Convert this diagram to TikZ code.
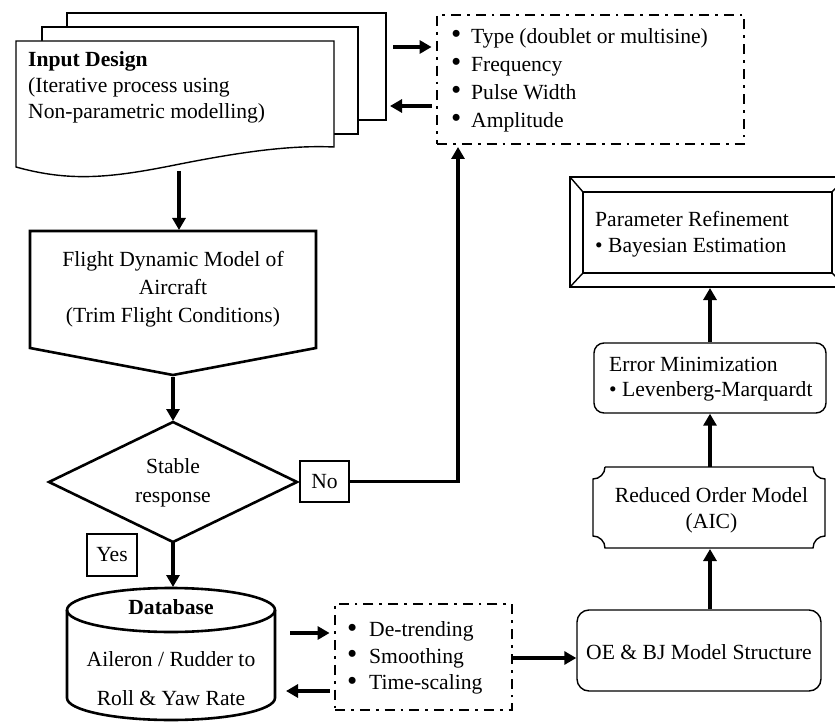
\documentclass[tikz,border=0pt]{standalone}
\usepackage{fontspec}
\setmainfont{Liberation Serif}
\usetikzlibrary{arrows.meta}
\newcommand{\bul}{\raisebox{-0.5pt}{\scalebox{1.35}{\textbullet}}}
\begin{document}
\begin{tikzpicture}[x=1pt,y=-1pt,
  every node/.style={font=\fontsize{21.6}{27}\selectfont, inner sep=0pt},
  arr/.style={line width=3.8pt, -{Triangle[length=12pt,width=13pt]}},
  thinline/.style={draw, line width=1.4pt},
  thickline/.style={draw, line width=2.6pt},
  dashdot/.style={draw, line width=2.8pt, dash pattern=on 10pt off 6pt on 2.8pt off 6pt},
  lbl/.style={draw, line width=1.3pt, fill=white}
]
\clip (0,0) rectangle (835,722);
\fill[white] (0,0) rectangle (835,722);

% --- Input design (stack of documents)
\draw[thinline, fill=white] (67,13) rectangle (386,120);
\draw[thinline, fill=white] (42,27) rectangle (358,134);
\draw[thinline, fill=white] (16,41) -- (334,41) -- (334,147)
   .. controls (290,145) and (240,152) .. (175,165)
   .. controls (110,178) and (70,182) .. (16,167) -- cycle;
\node[anchor=west, align=left, font=\fontsize{21.6}{26}\selectfont] (inputtxt) at (28,87)
  {\textbf{Input Design}\\(Iterative process using\\Non-parametric modelling)};
\coordinate (pgout) at (393,47);
\coordinate (pgin) at (390,106);
\coordinate (pgbot) at (179,171);

% --- Input types box
\node[dashdot, minimum width=307pt, minimum height=129pt] (types) at (590.5,79.5) {};
\node[anchor=west, align=left, font=\fontsize{21.6}{28}\selectfont] (typestxt) at (451,80)
  {\makebox[20pt][l]{\bul}Type (doublet or multisine)\\
   \makebox[20pt][l]{\bul}Frequency\\
   \makebox[20pt][l]{\bul}Pulse Width\\
   \makebox[20pt][l]{\bul}Amplitude};

% --- Flight dynamic model
\draw[thickline] (30,231) -- (316,231) -- (316,348) -- (173,375) -- (30,348) -- cycle;
\node[align=center, font=\fontsize{21.6}{28}\selectfont] (flighttxt) at (173,289)
  {Flight Dynamic Model of\\Aircraft\\(Trim Flight Conditions)};
\coordinate (flighttop) at (179,230);
\coordinate (flightbot) at (173,377);

% --- Decision
\draw[thickline] (173,422) -- (297,482) -- (173,542) -- (49,482) -- cycle;
\node[align=center, font=\fontsize{21.6}{29}\selectfont] (stabletxt) at (173,482.5) {Stable\\response};
\coordinate (dtop) at (173,421);
\coordinate (dbot) at (173,542);
\node[lbl, minimum width=49pt, minimum height=41pt] (no) at (324.5,481.5) {No};
\node[lbl, minimum width=50pt, minimum height=42pt] (yes) at (112,555) {Yes};
\coordinate (nup) at (458,147);

% --- Database cylinder
\draw[thickline] (67,610) -- (67,698)
   .. controls (67,710.1) and (113.6,720) .. (171,720)
   .. controls (228.4,720) and (275,710.1) .. (275,698) -- (275,610);
\draw[thickline] (171,610) ellipse [x radius=104pt, y radius=22pt];
\node[font=\fontsize{21.6}{27}\selectfont\bfseries] (dbtitle) at (171,607) {Database};
\node[align=center, font=\fontsize{21.6}{39}\selectfont] (dbtxt) at (171,678.5)
  {Aileron / Rudder to\\Roll \& Yaw Rate};
\coordinate (dbtop) at (173,587);
\coordinate (dbout) at (290,633);
\coordinate (dbin) at (286,691);

% --- Preprocessing box
\node[dashdot, minimum width=177pt, minimum height=106pt] (prep) at (423.5,657) {};
\node[anchor=west, align=left, font=\fontsize{21.6}{26.5}\selectfont] (preptxt) at (347,658)
  {\makebox[22pt][l]{\bul}De-trending\\
   \makebox[22pt][l]{\bul}Smoothing\\
   \makebox[22pt][l]{\bul}Time-scaling};

% --- OE & BJ
\node[thinline, rounded corners=12pt, minimum width=244pt, minimum height=81pt] (oe) at (699,650.5) {};
\node (oetxt) at (699,652) {OE \& BJ Model Structure};

% --- Reduced order model (plaque)
\draw[thinline] (605,467) -- (813,467)
   .. controls (813,473.6) and (818.4,479) .. (825,479) -- (825,536)
   .. controls (818.4,536) and (813,541.4) .. (813,548) -- (605,548)
   .. controls (605,541.4) and (599.6,536) .. (593,536) -- (593,479)
   .. controls (599.6,479) and (605,473.6) .. (605,467);
\node[align=center, font=\fontsize{21.6}{26}\selectfont] (rotxt) at (711.5,510)
  {Reduced Order Model\\(AIC)};
\coordinate (rotop) at (710,467);
\coordinate (robot) at (710,549);

% --- Error minimization
\node[thinline, rounded corners=10pt, minimum width=232pt, minimum height=70pt] (err) at (710,378) {};
\node[anchor=west, align=left, font=\fontsize{21.6}{25}\selectfont] (errtxt) at (609,379.5)
  {Error Minimization\\\textbullet{} Levenberg-Marquardt};

% --- Parameter refinement (bevel)
\draw[thinline] (570,177) rectangle (846,287);
\draw[thinline] (583,192) rectangle (832,273);
\draw[thinline] (570,177) -- (583,192);
\draw[thinline] (846,177) -- (832,192);
\draw[thinline] (570,287) -- (583,273);
\draw[thinline] (846,287) -- (832,273);
\node[anchor=west, align=left, font=\fontsize{21.6}{26}\selectfont] (partxt) at (595,234)
  {Parameter Refinement\\\textbullet{} Bayesian Estimation};
\coordinate (parbot) at (710,288);

% --- Connectors
\draw[arr] (pgout) -- ([xshift=-4pt]types.west |- pgout);
\draw[arr] ([xshift=-4pt]types.west |- pgin) -- (pgin);
\draw[arr] (pgbot) -- (flighttop);
\draw[arr] (flightbot) -- (dtop);
\draw[arr] (dbot) -- (dbtop);
\draw[arr] (no.east) -| (nup);
\draw[arr] (dbout) -- ([xshift=-4pt]prep.west |- dbout);
\draw[arr] ([xshift=-4pt]prep.west |- dbin) -- (dbin);
\draw[arr] (prep.east |- 0,658) -- (oe.west |- 0,658);
\draw[arr] (oe.north -| rotop) -- (robot);
\draw[arr] (rotop) -- (err.south);
\draw[arr] (err.north) -- (parbot);
\end{tikzpicture}
\end{document}
